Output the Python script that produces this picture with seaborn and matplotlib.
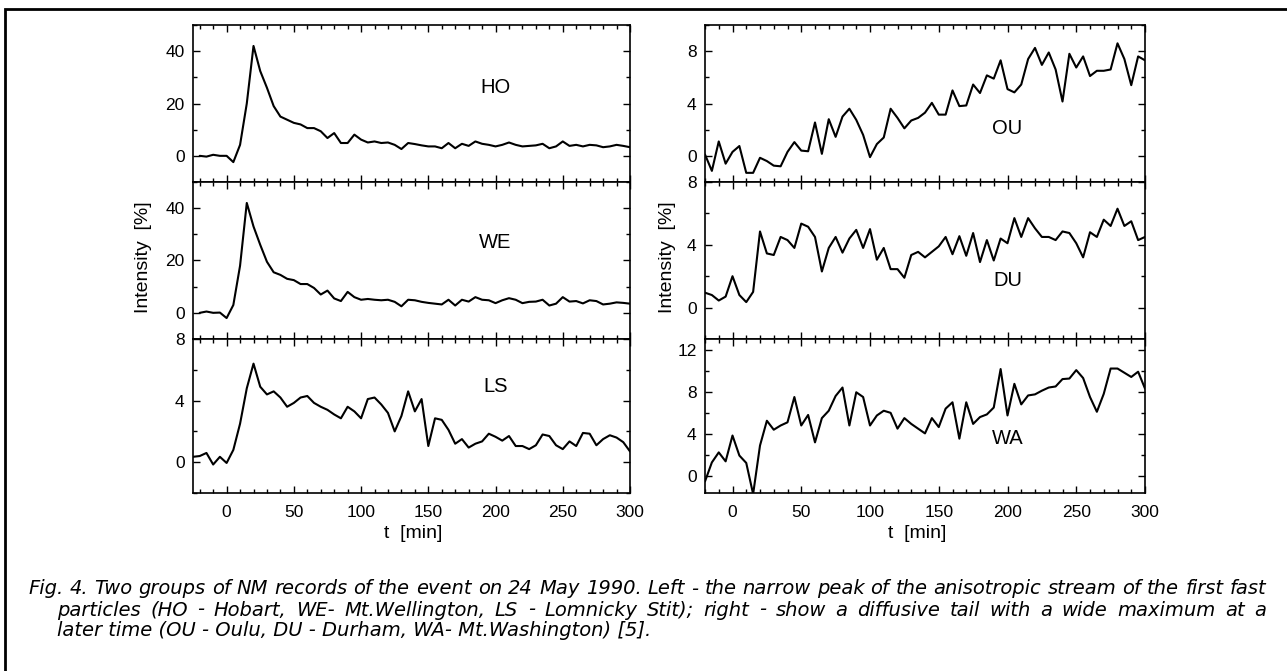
import matplotlib
matplotlib.use('Agg')
import matplotlib.pyplot as plt
import matplotlib.patches as mpatches
from matplotlib.ticker import MultipleLocator
import numpy as np
import pandas as pd
import seaborn as sns

sns.set_style('ticks')
plt.rcParams['font.family'] = ['Liberation Sans', 'DejaVu Sans']
plt.rcParams['text.color'] = 'black'
plt.rcParams['xtick.color'] = 'black'
plt.rcParams['ytick.color'] = 'black'
plt.rcParams['axes.edgecolor'] = 'black'

# time axis (min), 5 minute steps
t_left = np.arange(-20, 301, 5)
t_ls = np.arange(-25, 301, 5)
t_right = np.arange(-20, 301, 5)

ho = [0, -0.3, 0.4, 0, 0, -2.4, 4.2, 20, 42, 32.4, 26, 19, 15, 13.8, 12.6, 12, 10.6, 10.6, 9.4, 6.8,
      8.7, 4.9, 4.9, 8.1, 6.2, 5.1, 5.5, 4.9, 5.1, 4.2, 2.6, 4.9, 4.5, 4.0, 3.6, 3.6, 2.9, 4.9, 2.9, 4.6,
      3.8, 5.5, 4.6, 4.2, 3.6, 4.2, 5.1, 4.2, 3.6, 3.8, 4.0, 4.6, 2.9, 3.6, 5.5, 3.8, 4.2, 3.6, 4.2, 4.0,
      3.3, 3.6, 4.2, 3.8, 3.3]
we = [0, 0.5, 0, 0.1, -2, 3, 18, 42, 33, 26, 19.5, 15.5, 14.5, 13, 12.5, 11, 11, 9.5, 7, 8.5,
      5.5, 4.5, 8, 6, 5, 5.3, 5, 4.8, 5, 4.2, 2.5, 5, 4.8, 4.2, 3.8, 3.5, 3.2, 5, 2.8, 5,
      4.3, 6, 5, 4.8, 3.7, 4.8, 5.6, 5, 3.7, 4.2, 4.3, 5, 2.8, 3.5, 6, 4.3, 4.5, 3.6, 4.8, 4.5,
      3.2, 3.5, 4, 3.8, 3.5]
ls = [0.35, 0.4, 0.6, -0.15, 0.35, -0.05, 0.8, 2.5, 4.8, 6.4, 4.9, 4.4, 4.6, 4.2, 3.6, 3.85, 4.2, 4.3,
      3.85, 3.6, 3.4, 3.1, 2.85, 3.6, 3.3, 2.85, 4.1, 4.2, 3.75, 3.2, 2.0, 3.0, 4.6, 3.3, 4.1, 1.05,
      2.85, 2.75, 2.1, 1.2, 1.5, 0.95, 1.2, 1.35, 1.85, 1.65, 1.4, 1.7, 1.05, 1.05, 0.85, 1.1, 1.8,
      1.7, 1.1, 0.85, 1.35, 1.05, 1.9, 1.85, 1.1, 1.5, 1.75, 1.6, 1.3, 0.7]
ou = [0.1, -1.15, 1.1, -0.6, 0.3, 0.75, -1.3, -1.3, -0.15, -0.4, -0.75, -0.8, 0.3, 1.05, 0.4, 0.35,
      2.55, 0.15, 2.8, 1.45, 3.0, 3.6, 2.75, 1.6, -0.1, 0.9, 1.4, 3.6, 2.9, 2.1, 2.7, 2.9, 3.3, 4.05,
      3.15, 3.15, 5.0, 3.8, 3.85, 5.45, 4.8, 6.15, 5.9, 7.3, 5.1, 4.85, 5.45, 7.4, 8.25, 6.95, 7.9,
      6.6, 4.15, 7.8, 6.75, 7.6, 6.1, 6.5, 6.5, 6.6, 8.6, 7.4, 5.4, 7.6, 7.3]
du = [0.95, 0.8, 0.45, 0.7, 2.0, 0.8, 0.35, 1.0, 4.85, 3.45, 3.35, 4.5, 4.3, 3.8, 5.35, 5.15, 4.5,
      2.3, 3.8, 4.5, 3.5, 4.4, 4.95, 3.8, 5.0, 3.05, 3.8, 2.45, 2.45, 1.9, 3.35, 3.55, 3.2, 3.55, 3.9,
      4.5, 3.4, 4.55, 3.3, 4.75, 2.9, 4.3, 3.0, 4.4, 4.1, 5.7, 4.5, 5.7, 5.05, 4.5, 4.5, 4.3, 4.85,
      4.75, 4.1, 3.2, 4.8, 4.5, 5.6, 5.2, 6.3, 5.2, 5.5, 4.3, 4.5]
wa = [-0.5, 1.3, 2.25, 1.4, 3.85, 1.95, 1.25, -1.7, 2.9, 5.25, 4.4, 4.8, 5.1, 7.5, 4.8, 5.8, 3.2,
      5.5, 6.2, 7.6, 8.4, 4.8, 7.95, 7.5, 4.8, 5.75, 6.2, 6.0, 4.5, 5.5, 4.95, 4.5, 4.05, 5.5, 4.65,
      6.4, 7.0, 3.55, 7.0, 4.95, 5.6, 5.85, 6.5, 10.15, 5.75, 8.75, 6.8, 7.65, 7.75, 8.1, 8.4, 8.5,
      9.2, 9.25, 10.05, 9.3, 7.5, 6.1, 7.8, 10.2, 10.2, 9.8, 9.4, 9.9, 8.3]

caption = ['Fig. 4. Two groups of NM records of the event on 24 May 1990. Left - the narrow peak of the anisotropic stream of the first fast',
           'particles (HO - Hobart, WE- Mt.Wellington, LS - Lomnicky Stit); right - show a diffusive tail with a wide maximum at a',
           'later time (OU - Oulu, DU - Durham, WA- Mt.Washington) [5].']

W, H = 1287, 671
fig = plt.figure(figsize=(W / 100, H / 100), dpi=100)

def fx(px):
    return px / W

def fy(py):
    return 1 - py / H

rows = [25, 182, 339, 493]
cols = [(193, 630, (-25, 300)), (705, 1145, (-20, 300))]

panels = [
    # col, row, name, t, values, ylim, major, minor, label y
    (0, 0, 'HO', t_left, ho, (-10, 50), 20, 10, 26),
    (0, 1, 'WE', t_left, we, (-10, 50), 20, 10, 27),
    (0, 2, 'LS', t_ls, ls, (-2, 8), 4, 2, 4.9),
    (1, 0, 'OU', t_right, ou, (-2, 10), 4, 2, 2.1),
    (1, 1, 'DU', t_right, du, (-2, 8), 4, 2, 1.7),
    (1, 2, 'WA', t_right, wa, (-1.6, 13), 4, 2, 3.6),
]

for c, r, name, t, vals, ylim, major, minor, ly in panels:
    x0, x1, xlim = cols[c]
    ax = fig.add_axes([fx(x0), fy(rows[r + 1]), fx(x1 - x0), (rows[r + 1] - rows[r]) / H])
    df = pd.DataFrame({'t': t, 'v': vals})
    sns.lineplot(data=df, x='t', y='v', ax=ax, color='black', lw=1.5)
    ax.set_xlim(*xlim)
    ax.set_ylim(*ylim)
    ax.xaxis.set_major_locator(MultipleLocator(50))
    ax.xaxis.set_minor_locator(MultipleLocator(10))
    ax.yaxis.set_major_locator(MultipleLocator(major))
    ax.yaxis.set_minor_locator(MultipleLocator(minor))
    ax.tick_params(which='both', direction='in', top=True, right=True, width=1, labelsize=12.5)
    ax.tick_params(which='major', length=5)
    ax.tick_params(which='minor', length=3)
    ax.tick_params(axis='y', pad=6)
    ax.tick_params(axis='x', pad=8.5)
    ax.set_xlabel('')
    ax.set_ylabel('')
    if r < 2:
        ax.tick_params(labelbottom=False)
    for s in ax.spines.values():
        s.set_linewidth(1.2)
    ax.text(200, ly, name, fontsize=14.5, ha='center', va='center')

for xc in (143, 668):
    fig.text(fx(xc), fy(257), 'Intensity  [%]', rotation=90, fontsize=14, ha='center', va='center')
for xc in (413, 917):
    fig.text(fx(xc), fy(533), 't  [min]', fontsize=14, ha='center', va='center')

# frame around figure
fig.patches.append(mpatches.Rectangle((fx(5), -0.1), 1.2, fy(9) + 0.1, transform=fig.transFigure,
                                      fill=False, lw=2, ec='black'))

# caption, first two lines justified between x0 and 1266 px
renderer = fig.canvas.get_renderer()
cap_kw = dict(style='italic', fontsize=14, va='center', family='DejaVu Sans')

def justify(line, x0, x1, y):
    words = line.split(' ')
    texts = [fig.text(0, fy(y), w, **cap_kw) for w in words]
    widths = [tx.get_window_extent(renderer).width for tx in texts]
    gap = (x1 - x0 - sum(widths)) / (len(words) - 1)
    x = x0
    for tx, w in zip(texts, widths):
        tx.set_x(fx(x))
        x += w + gap

justify(caption[0], 28, 1266, 589)
justify(caption[1], 57, 1266, 610)
fig.text(fx(57), fy(631), caption[2], **cap_kw)

fig.savefig('out.png', dpi=100)
